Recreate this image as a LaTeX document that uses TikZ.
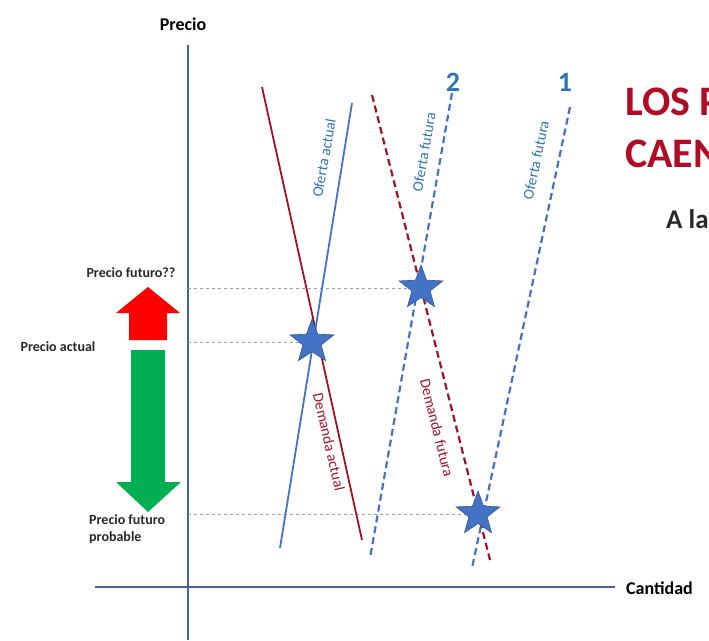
\documentclass[tikz,border=0pt]{standalone}
\usepackage{fontspec}
\setmainfont{Carlito}
\usetikzlibrary{shapes.geometric}
\definecolor{axisblue}{RGB}{68,100,160}
\definecolor{lineblue}{RGB}{68,114,196}
\definecolor{linered}{RGB}{160,18,38}
\definecolor{titlered}{RGB}{176,12,36}
\definecolor{labelblue}{RGB}{46,117,182}
\definecolor{arrowred}{RGB}{255,0,0}
\definecolor{arrowgreen}{RGB}{0,176,80}
\definecolor{guide}{RGB}{150,160,178}
\definecolor{darktext}{RGB}{40,40,40}
\begin{document}
\begin{tikzpicture}[x=1pt,y=-1pt,
  axis/.style={draw=axisblue,line width=1.8pt},
  supply/.style={draw=lineblue,line width=1.8pt},
  demand/.style={draw=linered,line width=1.8pt},
  dsh/.style={line width=2.2pt,dash pattern=on 7pt off 4pt},
  guideline/.style={draw=guide,line width=0.9pt,dash pattern=on 3pt off 3pt},
  eq/.style={star,star points=5,star point ratio=2.4,minimum size=46pt,inner sep=0pt,
    fill=lineblue,draw=lineblue!75!black,line width=0.6pt},
  axlabel/.style={font=\fontsize{18}{20}\selectfont\bfseries,text=black,inner sep=0pt},
  pricelabel/.style={font=\fontsize{14}{16}\selectfont\bfseries,text=darktext,inner sep=0pt},
  curvelabelb/.style={font=\fontsize{15}{17}\selectfont,text=labelblue,inner sep=0pt},
  curvelabelr/.style={font=\fontsize{15}{17}\selectfont,text=linered,inner sep=0pt},
  numlabel/.style={font=\fontsize{28}{30}\selectfont\bfseries,text=labelblue,inner sep=0pt},
  titletext/.style={font=\fontsize{42}{44}\selectfont\bfseries,text=titlered,inner sep=0pt,anchor=base west},
]
\useasboundingbox (0,0) rectangle (709,640);
\fill[white] (0,0) rectangle (709,640);

% title (cut by the right edge)
\begin{scope}
\clip (0,0) rectangle (709,640);
\node[titletext] (t1) at (625,115) {LOS P};
\node[titletext] (t2) at (625,167) {CAEN};
\node[font=\fontsize{27}{29}\selectfont\bfseries,text=darktext,inner sep=0pt,anchor=base west] (t3) at (666,228) {A la};
\end{scope}

% axes
\coordinate (ytop) at (188,45);
\coordinate (ybot) at (188,640);
\coordinate (xl) at (95,587);
\coordinate (xr) at (615,587);
\draw[axis] (ytop) -- (ybot);
\draw[axis] (xl) -- (xr);
\node[axlabel] (lp) at (183,24) {Precio};
\node[axlabel,anchor=west] (lq) at (626,588) {Cantidad};

% equilibrium points
\coordinate (s1) at (312,342);
\coordinate (s2) at (421,288);
\coordinate (s3) at (478,514);

% guide lines
\coordinate (g1) at (188,342);
\coordinate (g2) at (188,288);
\coordinate (g3) at (188,514);
\draw[guideline] (g2) -- (s2);
\draw[guideline] (g1) -- (s1);
\draw[guideline] (g3) -- (s3);

% curves
\coordinate (da1) at (262,87);  \coordinate (da2) at (362,540);
\coordinate (oa1) at (352,103); \coordinate (oa2) at (280,548);
\coordinate (df1) at (372,95);  \coordinate (df2) at (490,560);
\coordinate (of21) at (452,93); \coordinate (of22) at (370,558);
\coordinate (of11) at (570,107);\coordinate (of12) at (472,568);
\draw[demand] (da1) -- (da2);
\draw[supply] (oa1) -- (oa2);
\draw[demand,dsh] (df1) -- (df2);
\draw[supply,dsh] (of21) -- (of22);
\draw[supply,dsh] (of11) -- (of12);

% curve labels
\node[curvelabelb,rotate=80] (loa) at (324,158) {Oferta actual};
\node[curvelabelb,rotate=80] (lof2) at (424,152) {Oferta futura};
\node[curvelabelb,rotate=78] (lof1) at (536,160) {Oferta futura};
\node[curvelabelr,rotate=-77] (lda) at (329,442) {Demanda actual};
\node[curvelabelr,rotate=-76] (ldf) at (437,428) {Demanda futura};
\node[numlabel] (n2) at (453,82) {2};
\node[numlabel] (n1) at (565,82) {1};

% stars
\node[eq] (e1) at (s1) {};
\node[eq] (e2) at (s2) {};
\node[eq] (e3) at (s3) {};

% arrows
\fill[arrowred] (129,340) -- (129,313) -- (116,313) -- (148,287) -- (180,313) -- (167,313) -- (167,340) -- cycle;
\fill[arrowgreen] (131,350) -- (131,482) -- (116,482) -- (148,512) -- (181,482) -- (165,482) -- (165,350) -- cycle;

% price labels
\node[pricelabel] (pf) at (131,273) {Precio futuro??};
\node[pricelabel] (pa) at (58,347) {Precio actual};
\node[pricelabel,align=left,anchor=north west,font=\fontsize{14}{17}\selectfont\bfseries] (pp) at (89,514) {Precio futuro\\probable};
\end{tikzpicture}
\end{document}
